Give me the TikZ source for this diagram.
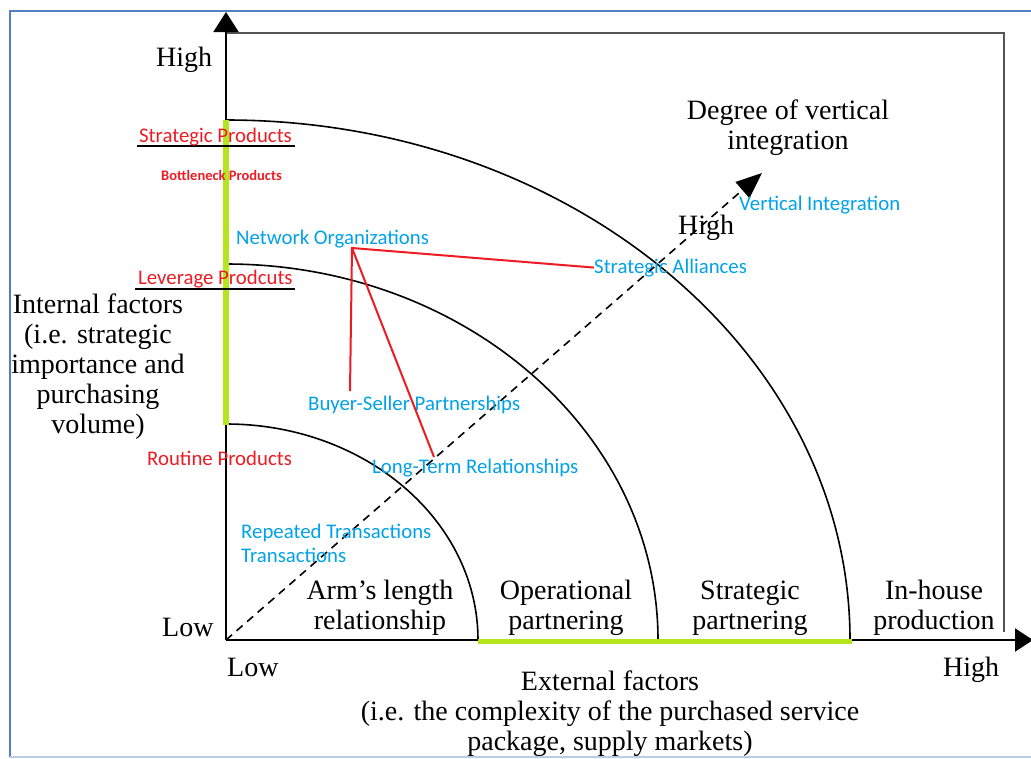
\documentclass[tikz,border=0pt]{standalone}
\usepackage{fontspec}
\setmainfont{Liberation Serif}
\newfontfamily\labelsans{Carlito}
\usetikzlibrary{arrows.meta}

\definecolor{framebl}{HTML}{4F81BD}
\definecolor{framelt}{HTML}{B9CDE5}
\definecolor{barlime}{HTML}{B5E61D}
\definecolor{redlbl}{HTML}{ED1C24}
\definecolor{bluelbl}{HTML}{00A2E8}
\definecolor{framegray}{HTML}{555555}

\tikzset{
  axisline/.style={line width=2pt, -{Triangle[length=20pt,width=25pt]}},
  ring/.style={line width=1.6pt},
  hilite/.style={line width=6pt, barlime},
  underbar/.style={line width=1.8pt},
  link/.style={line width=2pt, redlbl},
  serif/.style={font=\fontsize{28}{30}\selectfont, inner sep=0pt},
  cat/.style={serif, align=center},
  redtxt/.style={font=\labelsans\fontsize{20.8}{24}\selectfont, text=redlbl, inner sep=0pt},
  bluetxt/.style={font=\labelsans\fontsize{20.8}{24}\selectfont, text=bluelbl, inner sep=0pt},
}

\begin{document}
\begin{tikzpicture}[x=1pt,y=-1pt]
\useasboundingbox (0,0) rectangle (1031,758);
\fill[white] (0,0) rectangle (1031,758);

% outer border
\draw[framebl, line width=2pt] (10,757) -- (10,11) -- (1031,11);
\draw[framelt, line width=1.5pt] (10,757) -- (1031,757);

% key points
\coordinate (O) at (226,640);
\coordinate (ytop) at (226,12);
\coordinate (xend) at (1033,640);
\coordinate (vi) at (762,173);
\coordinate (hub) at (352,248);
\coordinate (bsEnd) at (350,391);
\coordinate (ltEnd) at (434,457);

% plot frame
\draw[framegray, line width=1.5pt] (226,33) -- (1004,33) -- (1004,632);

% relationship boundaries
\draw[ring] (226,424) arc[start angle=-90, end angle=0, x radius=252, y radius=216];
\draw[ring] (226,264) arc[start angle=-90, end angle=0, x radius=432, y radius=376];
\draw[ring] (226,120) arc[start angle=-90, end angle=0, x radius=624, y radius=520];

% axes
\draw[axisline] (O) -- (ytop);
\draw[line width=2pt, -{Triangle[length=18pt,width=23pt]}] (O) -- (xend);

% highlighted ranges
\draw[hilite] (226,120) -- (226,425);
\draw[hilite, line width=5pt] (478,641) -- (852,641);

% degree of vertical integration
\draw[line width=1.6pt, dash pattern=on 8pt off 6pt, -{Triangle[length=26pt,width=21pt]}] (O) -- (vi);

% category underlines
\draw[underbar] (137,146) -- (295,146);
\draw[underbar] (135,289) -- (295,289);

% axis labels
\node[serif, anchor=base west] (yhigh) at (156,66) {High};
\node[serif, anchor=base west] (ylow) at (162,636) {Low};
\node[serif, anchor=base west] (xlow) at (227,676) {Low};
\node[serif, anchor=base west] (xhigh) at (943,676) {High};
\node[serif, anchor=base west] (dhigh) at (678,234) {High};
\node[cat] (internal) at (98,367) {Internal factors\\(i.e. strategic\\importance and\\purchasing\\volume)};
\node[cat] (degree) at (788,128) {Degree of vertical\\integration};
\node[cat] (arms) at (380,608) {Arm’s length\\relationship};
\node[cat] (oper) at (566,608) {Operational\\partnering};
\node[cat] (strat) at (750,608) {Strategic\\partnering};
\node[cat] (inhouse) at (934,608) {In-house\\production};
\node[cat] (external) at (610,714) {External factors\\(i.e. the complexity of the purchased service\\package, supply markets)};

% product categories
\node[redtxt, anchor=base west] (sp) at (139,142) {Strategic Products};
\node[redtxt, font=\labelsans\bfseries\fontsize{14.5}{16}\selectfont, anchor=base west] (bp) at (161,180) {Bottleneck Products};
\node[redtxt, anchor=base west] (lp) at (138,284) {Leverage Prodcuts};
\node[redtxt, anchor=base west] (rp) at (147,465) {Routine Products};

% relationship forms
\node[bluetxt, anchor=base west] (no) at (236,244) {Network Organizations};
\node[bluetxt, anchor=base west] (sa) at (594,273) {Strategic Alliances};
\node[bluetxt, anchor=base west] (vint) at (739,210) {Vertical Integration};
\node[bluetxt, anchor=base west] (bs) at (308,410) {Buyer-Seller Partnerships};
\node[bluetxt, anchor=base west] (lt) at (372,473) {Long-Term Relationships};
\node[bluetxt, anchor=base west] (rt) at (241,538) {Repeated Transactions};
\node[bluetxt, anchor=base west] (tr) at (241,562) {Transactions};

% network links
\draw[link] (bsEnd) -- (hub) -- (sa.west);
\draw[link] (hub) -- (ltEnd);
\end{tikzpicture}
\end{document}
